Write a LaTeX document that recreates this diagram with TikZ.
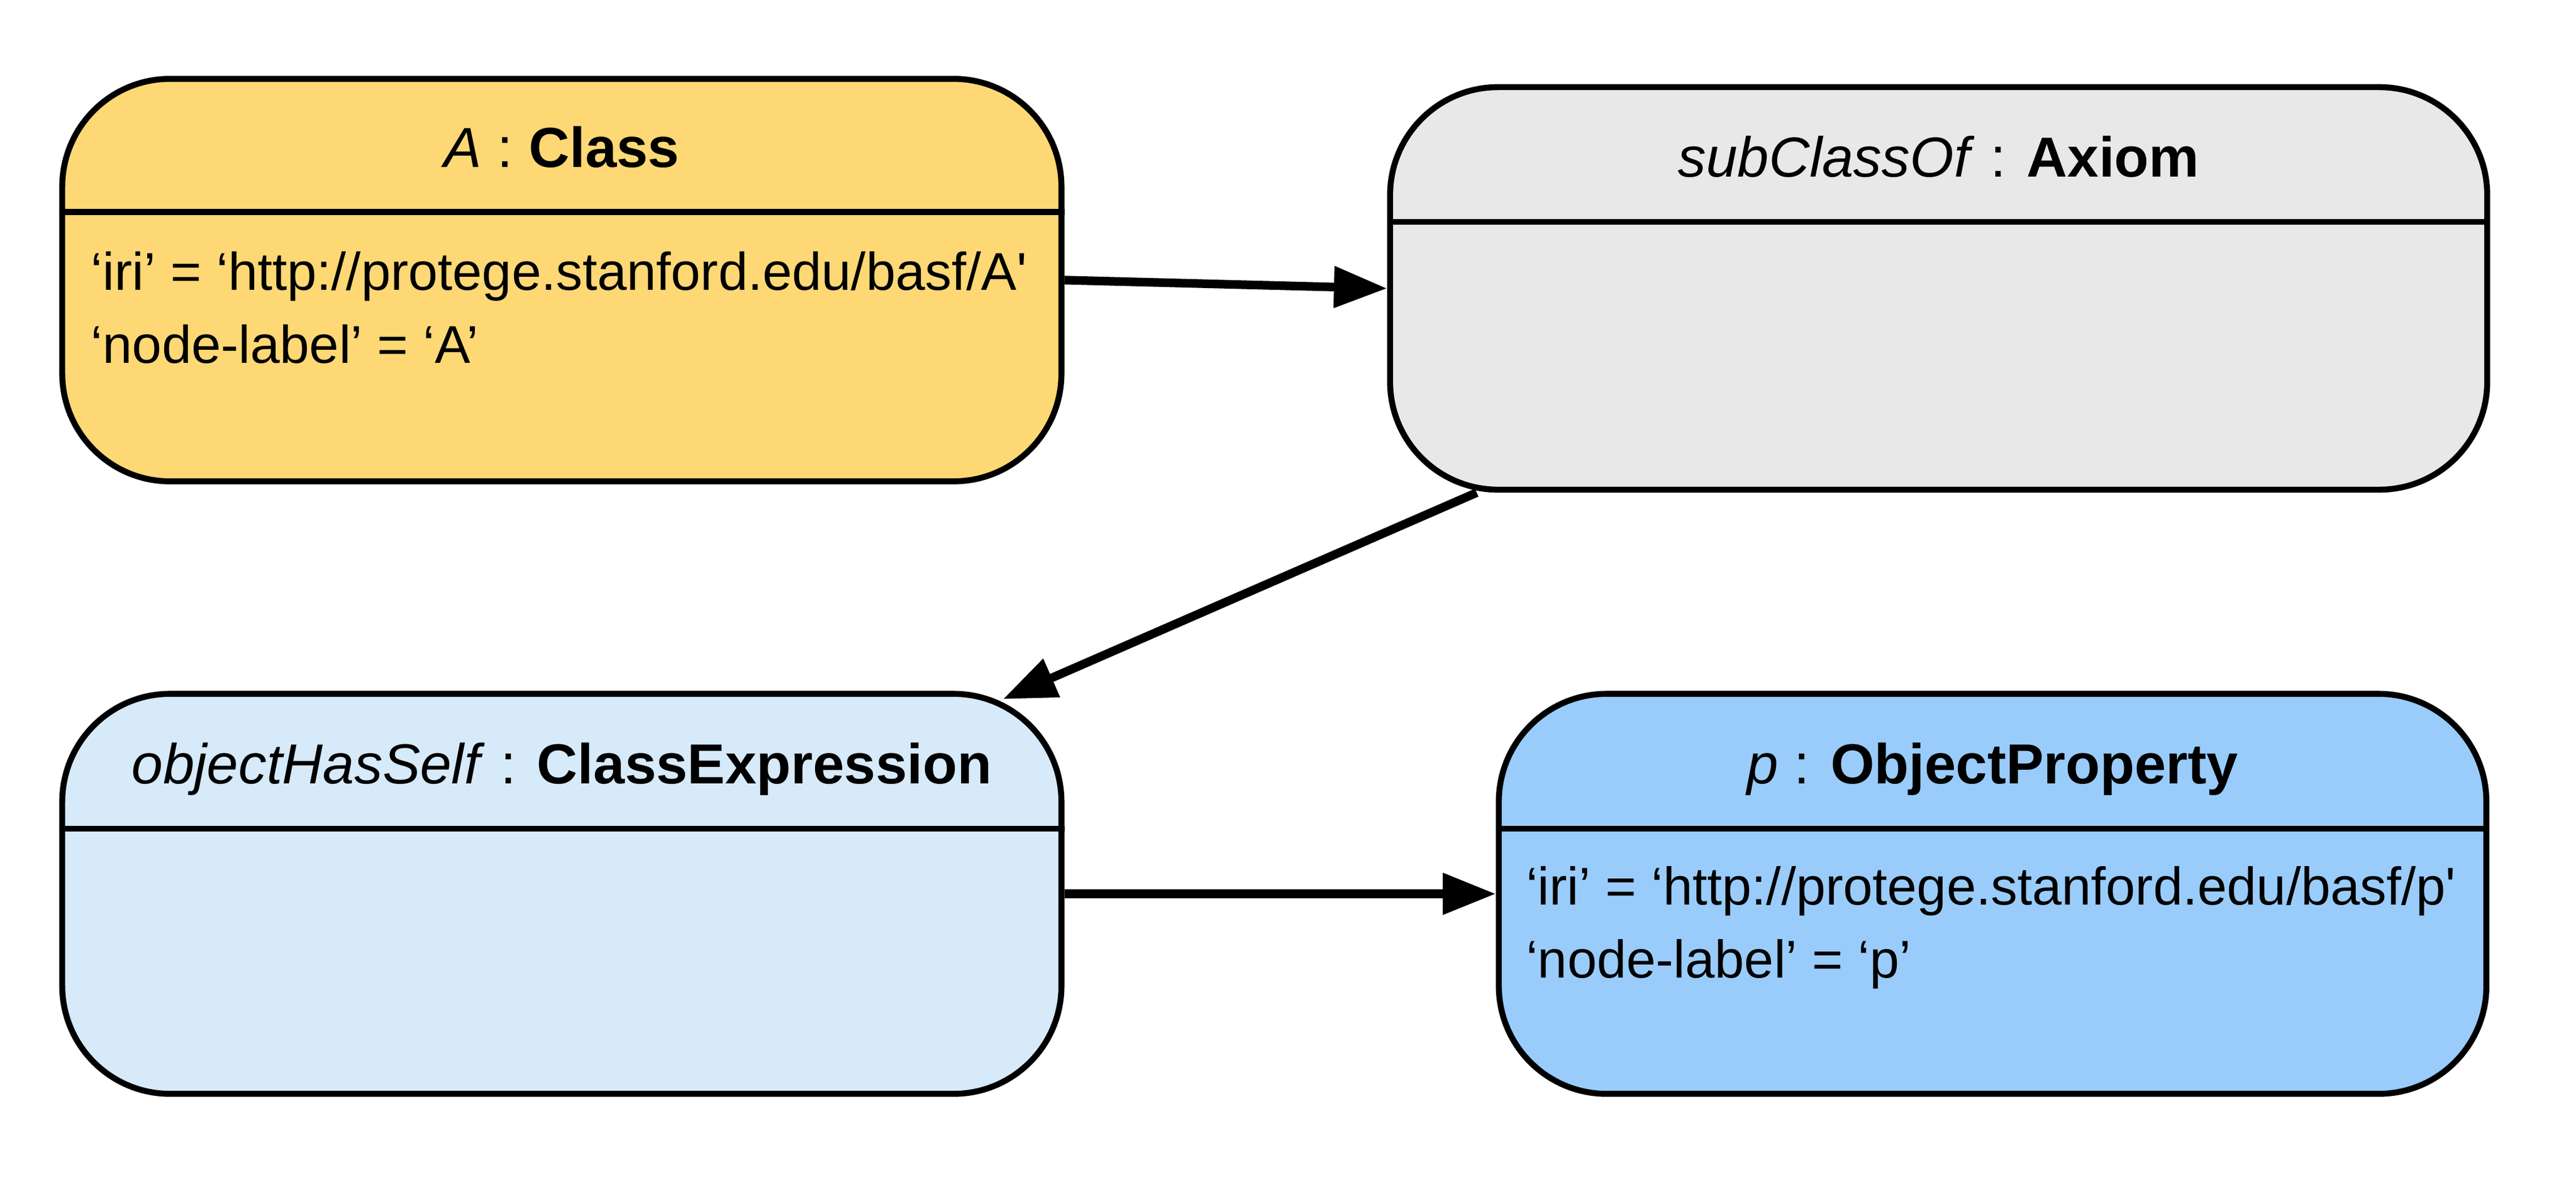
\documentclass[tikz,border=0pt]{standalone}
\usepackage{fontspec}
\setmainfont{Liberation Sans}
\usetikzlibrary{arrows.meta,calc}
\definecolor{classfill}{RGB}{254,216,117}
\definecolor{axiomfill}{RGB}{232,232,232}
\definecolor{exprfill}{RGB}{214,234,249}
\definecolor{propfill}{RGB}{153,204,251}
\begin{document}
\begin{tikzpicture}[x=1pt,y=1pt,yscale=-1,
  umlbox/.style={draw,line width=3.6pt,rounded corners=65pt,inner sep=0pt},
  divider/.style={line width=3.6pt},
  headtext/.style={anchor=base,inner sep=0pt,font=\fontsize{34}{40}\selectfont},
  attrtext/.style={anchor=base west,inner sep=0pt,font=\fontsize{32}{38}\selectfont},
  link/.style={line width=5.2pt,-{Triangle[length=32pt,width=24pt]}}]
\useasboundingbox (0,0) rectangle (1552,715);
% boxes
\node[umlbox,fill=classfill,minimum width=602pt,minimum height=242.5pt] (cls) at (338.5,168.75) {};
\node[umlbox,fill=axiomfill,minimum width=661pt,minimum height=242.5pt] (ax) at (1168,173.75) {};
\node[umlbox,fill=exprfill,minimum width=602pt,minimum height=241pt] (ohs) at (338.5,538.5) {};
\node[umlbox,fill=propfill,minimum width=595pt,minimum height=241pt] (prop) at (1200.5,538.5) {};
% dividers
\draw[divider] ($(cls.north west)+(0,82)$) -- ($(cls.north east)+(0,82)$);
\draw[divider] ($(ax.north west)+(0,83)$) -- ($(ax.north east)+(0,83)$);
\draw[divider] ($(ohs.north west)+(0,83)$) -- ($(ohs.north east)+(0,83)$);
\draw[divider] ($(prop.north west)+(0,83)$) -- ($(prop.north east)+(0,83)$);
% headers
\node[headtext] (clshead) at ($(cls.north)+(0,55)$) {\textit{A} : \textbf{Class}};
\node[headtext] (axhead) at ($(ax.north)+(0,56)$) {\textit{subClassOf} : \textbf{Axiom}};
\node[headtext] (ohshead) at ($(ohs.north)+(0,56)$) {\textit{objectHasSelf} : \textbf{ClassExpression}};
\node[headtext] (prophead) at ($(prop.north)+(0,56)$) {\textit{p} : \textbf{ObjectProperty}};
% attributes
\node[attrtext] (clsiri) at ($(cls.north west)+(19,129)$) {‘iri’ = ‘http://protege.stanford.edu/basf/A\textquotesingle};
\node[attrtext] (clslabel) at ($(cls.north west)+(19,173)$) {‘node-label’ = ‘A’};
\node[attrtext] (propiri) at ($(prop.north west)+(18,129)$) {‘iri’ = ‘http://protege.stanford.edu/basf/p\textquotesingle};
\node[attrtext] (proplabel) at ($(prop.north west)+(18,173)$) {‘node-label’ = ‘p’};
% links
\draw[link] (cls.east) -- (ax.west);
\draw[link] ($(ax.south west)+(54,0)$) -- ($(ohs.north east)+(-37,5)$);
\draw[link] (ohs.east) -- (prop.west);
\end{tikzpicture}
\end{document}
